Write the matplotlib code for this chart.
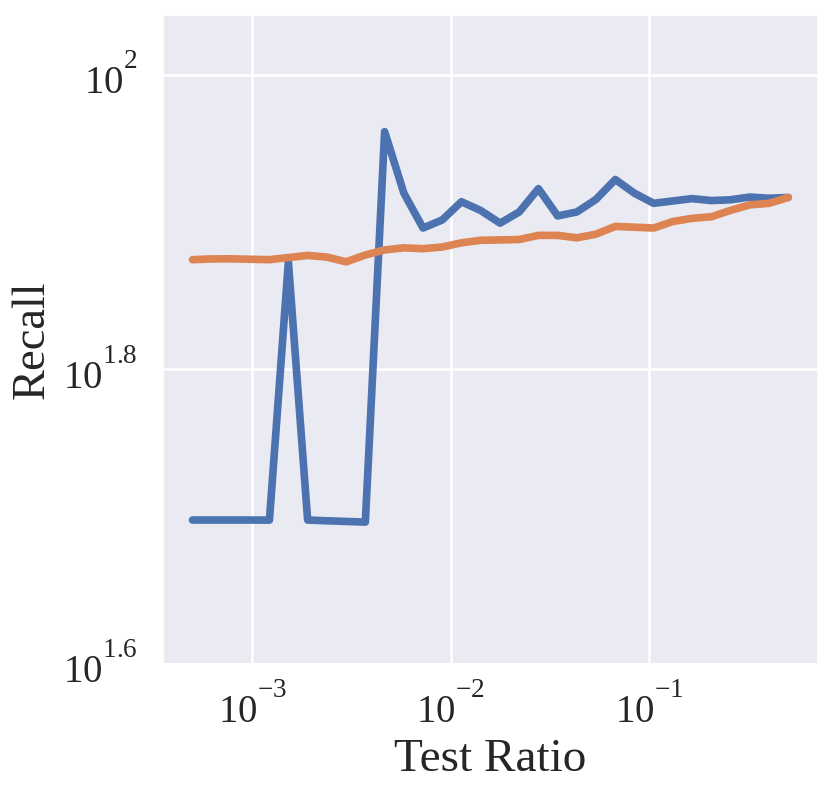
import matplotlib
matplotlib.use("Agg")
import matplotlib.pyplot as plt
import matplotlib._mathtext as mathtext
import seaborn as sns
from matplotlib.ticker import NullFormatter

# test ratios (log spaced, 5e-4 .. 0.5)
test_ratio = [0.000500, 0.000625, 0.000781, 0.000976, 0.00122, 0.00152,
              0.00190, 0.00238, 0.00297, 0.00371, 0.00464, 0.00580,
              0.00724, 0.00905, 0.0113, 0.0141, 0.0177, 0.0221,
              0.0276, 0.0345, 0.0431, 0.0538, 0.0673, 0.0840,
              0.105, 0.131, 0.164, 0.205, 0.256, 0.320, 0.400, 0.500]

recall_blue = [49.86, 49.86, 49.86, 49.86, 49.85, 74.65, 49.86, 49.8,
               49.75, 49.7, 91.5, 83.1, 78.7, 79.7, 82.0, 80.9,
               79.3, 80.7, 83.7, 80.2, 80.7, 82.3, 84.9, 83.1,
               81.8, 82.1, 82.4, 82.15, 82.25, 82.6, 82.45, 82.55]

recall_orange = [74.9, 74.99, 75.0, 74.95, 74.9, 75.15, 75.4, 75.2,
                 74.65, 75.45, 76.05, 76.3, 76.2, 76.4, 76.9, 77.2,
                 77.25, 77.3, 77.8, 77.8, 77.5, 77.95, 78.9, 78.8,
                 78.7, 79.5, 79.9, 80.1, 80.9, 81.6, 81.8, 82.55]

ytick_vals = [10 ** 1.6, 10 ** 1.8, 10 ** 2]
ytick_labels = [r"$10^{1.6}$", r"$10^{1.8}$", r"$10^{2}$"]
xtick_vals = [1e-3, 1e-2, 1e-1]
xtick_labels = [r"$10^{-3}$", r"$10^{-2}$", r"$10^{-1}$"]

# Times New Roman reports a big x-height (pclt table), which lifts the
# exponents; Liberation Serif has no such table, so mimic it here
_xheight = mathtext.TruetypeFonts.get_xheight
def _times_xheight(self, fontname, fontsize, dpi):
    return _xheight(self, fontname, fontsize, dpi) * 1.9
mathtext.TruetypeFonts.get_xheight = _times_xheight

sns.set_theme(style="darkgrid")
plt.rcParams["font.family"] = ["Liberation Serif", "DejaVu Serif"]
plt.rcParams["mathtext.fontset"] = "custom"
plt.rcParams["mathtext.rm"] = "Liberation Serif"
plt.rcParams["mathtext.it"] = "Liberation Serif:italic"
plt.rcParams["mathtext.bf"] = "Liberation Serif:bold"

fig = plt.figure(figsize=(8.31, 7.96), dpi=100)
ax = fig.add_axes([0.1958, 0.1658, 0.7886, 0.8154])

ax.plot(test_ratio, recall_blue, color="#4C72B0", linewidth=5.5,
        solid_capstyle="round", solid_joinstyle="round")
ax.plot(test_ratio, recall_orange, color="#DD8452", linewidth=5.5,
        solid_capstyle="round", solid_joinstyle="round")

ax.set_xscale("log")
ax.set_yscale("log")
ax.set_ylim(10 ** 1.6, 109.8)
ax.set_yticks(ytick_vals)
ax.set_yticklabels(ytick_labels)
ax.set_xticks(xtick_vals)
ax.set_xticklabels(xtick_labels)
ax.yaxis.set_minor_formatter(NullFormatter())
ax.xaxis.set_minor_formatter(NullFormatter())
ax.tick_params(axis="both", which="major", labelsize=28)
ax.tick_params(axis="y", pad=12)
ax.tick_params(axis="x", pad=8.5)
ax.grid(True, which="major", color="white", linewidth=1.8)

ax.set_xlabel("Test Ratio", fontsize=34, labelpad=5)
ax.set_ylabel("Recall", fontsize=33.5, labelpad=7)

fig.savefig("out.png", dpi=100)
